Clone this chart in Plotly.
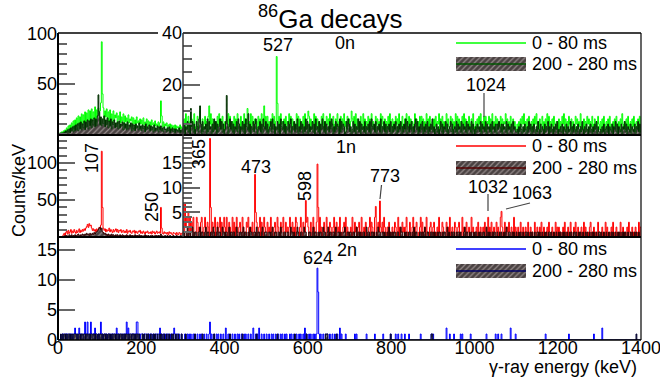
import plotly.graph_objects as go

FONT = "Liberation Sans, Arial, sans-serif"
BIN_KEV = 2

# ---------------- 0n panel ----------------
G0_LOW = [0,0,1,0,2,0,3,1,4,2, 6,2,8,4,9,3,11,6,13,5, 14,7,16,9,18,8,17,10,20,9,
          19,11,22,10,21,13,24,12,23,11, 25,13,22,15,27,12,24,16,26,14, 23,31,92,40,26,14,23,17,25,13,
          22,12,24,15,20,11,23,13,19,16, 21,10,18,14,22,11,17,13,20,9, 18,12,16,9,19,11,15,13,17,8,
          16,10,14,8,17,11,13,9,15,10, 14,8,16,9,12,10,15,7,13,9, 12,7,14,9,11,6,13,8,10,7,
          12,6,11,33,18,7,12,6,10,8, 11,5,9,7,10,4,9,6,8,5, 9,4,8,6,7,3,9,5,7,4]
D0_LOW = [0,0,0,1,0,1,0,2,1,3, 1,4,2,5,1,6,3,7,2,8, 3,9,4,10,3,11,5,12,4,10,
          6,13,4,12,7,14,5,13,8,15, 6,14,9,16,7,15,8,18,39,22, 9,17,8,15,10,18,7,14,9,16,
          6,13,8,15,5,12,9,14,6,11, 7,12,5,13,6,10,8,12,4,11, 6,10,4,12,5,9,7,11,3,10,
          5,9,3,10,6,8,4,11,5,8, 3,9,5,8,2,10,4,7,5,9, 3,8,4,7,2,9,3,6,4,8,
          2,7,4,8,3,6,2,7,4,5, 2,6,3,7,1,5,3,6,2,5, 1,5,3,4,2,6,1,4,2,5]
G0_HIGH = ["4739528461 7359246835 9247358462 8359471636 2849573852",
           "6372948536 2847391548 2639475826 3948527361 8472935648",
           "3826473958 2647382956 3728465938 2746359284 7362849537",
           "4837265938 4726358294 6385729463 8257394628 3759462837",
           "3627485937 2648539274 6382759364 2857362948 5372648295",
           "4726385729 3648257396 4827365294 7362858374 6293748526",
           "3748265937 4826359274 3857264938 2746385927 4638257394",
           "2637485926 3748265837 2946385726 4837265947 3628457362",
           "3526374859 2637485263 7485926374 5836274958 3627485362",
           "2736485927 3648527364 2857364925 3746285736 4825736485",
           "3627485263 7482536274 8536274952 6374825637 4825637482"]
D0_HIGH = ["2514362513 4625136427 3516243517 2634152736 1524736251",
           "3625147362 5143627514 3625174362 5143625731 4362517436",
           "2513462735 1436251743 6251436257 1436253714 2635142736",
           "1524362517 3426153742 6153426375 1426354172 6354126375",
           "2413625143 7261534261 4352617435 2614352714 3625143526",
           "1425361425 3614253716 4253614257 3614253614 2536142537",
           "2413524136 2514362513 4625134261 5342615342 6153426153",
           "1425342615 3426153425 1634251536 4251534261 5342516342",
           "2314253142 5314263514 2531426315 2431524361 4253142536",
           "1324251432 5142361425 3142531426 3142531425 3142536142",
           "2314251342 5143251436 2514325143 6251432514 3251436251"]
G0_PEAKS = {340: 10, 362: 12, 455: 11, 494: 12, 524: 31, 526: 13, 600: 10, 704: 10, 1022: 8}
D0_PEAKS = {318: 11, 340: 12, 404: 16, 456: 9}

# ---------------- 1n panel ----------------
R1_LOW = [0,0,0,0,0,1,3,5,2,6, 8,4,9,5,7,10,5,8,6,10, 7,5,9,6,8,11,6,9,7,10,
          8,11,9,12,14,17,13,18,15,16, 12,9,11,8,10,7,11,8,10,13, 10,16,116,40,12,9,11,7,10,8,
          9,12,7,10,8,6,10,7,9,11, 7,10,6,9,8,10,6,8,9,6, 8,6,10,5,8,7,9,6,5,8,
          7,9,5,8,6,5,8,7,9,5, 7,5,8,6,4,7,6,8,5,6, 5,7,4,8,6,7,4,6,8,5,
          6,7,5,40,12,5,4,7,5,6, 4,6,3,7,5,6,4,3,6,5, 5,3,6,4,3,6,5,3,5,4]
D1_LOW = [0,0,0,0,0,0,1,0,2,1, 2,1,0,3,2,1,3,1,2,2, 3,1,2,3,4,2,1,3,2,4,
          3,2,4,3,5,3,4,2,5,3, 4,5,3,6,4,6,7,8,10,12, 13,10,12,7,6,4,5,3,4,2,
          4,2,3,1,4,2,3,2,1,3, 2,3,1,2,3,1,2,3,2,1, 2,1,3,2,1,2,3,1,2,2,
          1,2,3,1,2,2,1,3,1,2, 2,1,1,2,3,1,2,1,2,1, 1,2,1,2,1,0,2,1,2,1,
          2,1,2,4,2,1,1,0,2,1, 1,2,0,1,2,1,0,1,2,1, 0,1,2,1,0,1,1,2,0,1]
R1_HIGH = ["7052430041 3240014302 0341024003 2004130240 0312403104",
           "2040132004 1302401230 0421003240 1203004132 0240310420",
           "0312041002 3014200312 4003120240 1302043100 2410320134",
           "2013004210 3201402013 0042103201 2400312041 0023140210",
           "1204003120 2310401203 0012403210 4102300213 0421020310",
           "0210320140 2003120241 0130024102 3001240310 2041002301",
           "2301020410 0321003120 4012003201 2300140210 3012004120",
           "0120301200 2130014020 3102003120 1402013002 1300210402",
           "1020031020 1200310201 0031020120 3002101203 0012010302",
           "0201002130 1020031002 1300201020 1302001023 0102010031",
           "1002010302 0010203100 2010030120 1002031002 0102001302"]
D1_HIGH = ["1100120110 0210110011 2011001201 1001102100 1201100211",
           "0110020110 1100210011 0120110010 2110011020 1100120011",
           "1001101200 1100110210 0110011002 1101001210 0110021100",
           "0110012011 0010110021 1001201100 1102001101 0011200110",
           "1100110020 1101001100 2011001101 0010211001 1010010201",
           "0101100110 0211001010 0110010201 1000110101 2001100110",
           "1010010110 0101100201 0010110010 1101000120 1100101001",
           "0110010100 1100201010 0101100100 1010010120 0110010100",
           "1001010010 0110100101 0010011010 0100101001 1010010010",
           "0101001010 0100101001 1010010100 1001010010 0101001001",
           "1010010010 0100101001 0010100101 0100100101 0010100100"]
R1_PEAKS = {304: 7, 312: 5, 364: 20, 366: 6, 472: 12.7, 474: 5, 594: 7.4, 622: 14.8, 624: 6,
            762: 6.2, 772: 7.3, 1032: 4, 1064: 5.2}
D1_PEAKS = {}

# ---------------- 2n panel ----------------
B2_ALL = ["0000011011 1101111011 2110121110 1131131113 1111211011",
          "1311011110 1110111101 2111011011 1131211011 1111331101",
          "1101110110 1110101110 1121101101 0110101102 1011010010",
          "0010010101 0010100100 1010010010 0130100100 1010010010",
          "0200101001 0010010100 1001010010 0100200101 0200100100",
          "1001001010 0100100101 0010100010 1001001001 0100102010",
          "0101001010 1001010010 0101001001 0010010020 1000010000",
          "0000001010 0000000000 1000000000 1000000000 1000000001",
          "0000010010 0010001000 0100000000 0000010000 0000000010",
          "1000000000 0000002000 1000010000 0001010000 0000010000",
          "0000000000 0000100000 0000010010 0010000000 0002000001",
          "0000000000 0000000000 0000000000 0000010000 0000000000",
          "0000000000 0001000000 0000000000 0000000000 0001000000",
          "0002000000 0000000000 0000000000 0000000000 0000000000"]
D2_ALL = ["0001010110 1011010101 1101011011 0110110101 1011011010",
          "1101011010 1101010110 1010110101 0110101101 1010110100",
          "0101001010 0100101001 0010100100 1001001010 0100100010",
          "0001000000 0000100000 0001000000 0000000100 0000000000",
          "0000001000 0000000000 0100000000 0000000010 0000000000",
          "0000000000 0001000000 0000000000 0000100000 0000000010",
          "0000000000 0000000000 0111000000 0000100000 0000000000",
          "0000000000 0000000000 0000000000 0000000000 0000000001",
          "0000000000 0000000000 0000000000 0000000000 0000000011",
          "0000000000 0000000000 0000000000 0000000000 0000000000",
          "0000000000 0000000000 0000000000 0000000000 0000000000",
          "0000000000 0000000000 0000000000 0000000000 0000000000",
          "0000000000 0000000000 0000000000 0000000000 0000000000",
          "0000000000 0000000000 0000000000 0000000000 0000100000"]
B2_PEAKS = {622: 12, 624: 8}
D2_PEAKS = {}

X_TICKS = [0, 200, 400, 600, 800, 1000, 1200, 1400]
LEGEND_LABELS = ["0 - 80 ms", "200 - 280 ms"]
PANEL_NAMES = ["0n", "1n", "2n"]


def series(low, high, peaks):
    vals = list(low) + [int(c) for s in high for c in s.replace(" ", "")]
    for e, v in peaks.items():
        vals[e // BIN_KEV] = v
    return vals


def step_xy(vals):
    xs = [i * BIN_KEV for i in range(len(vals) + 1)]
    ys = list(vals) + [vals[-1]]
    return xs, ys


W, H = 660, 377
def px(x): return x / W
def py(y): return 1 - y / H


fig = go.Figure()

HATCH = dict(shape="/", bgcolor="#4a4242", fgcolor="#958b8b", size=4, solidity=0.3)

panels = [
    (series(G0_LOW, G0_HIGH, G0_PEAKS), series(D0_LOW, D0_HIGH, D0_PEAKS), "#00ff00", "#003300", [("x", "y"), ("x2", "y2")]),
    (series(R1_LOW, R1_HIGH, R1_PEAKS), series(D1_LOW, D1_HIGH, D1_PEAKS), "#ff0000", "#330000", [("x3", "y3"), ("x4", "y4")]),
    (series([], B2_ALL, B2_PEAKS), series([], D2_ALL, D2_PEAKS), "#0000ff", "#000033", [("x5", "y5")]),
]
for bright, dark, cb, cd, axes in panels:
    for xa, ya in axes:
        xs, ys = step_xy(bright)
        fig.add_trace(go.Scatter(x=xs, y=ys, mode="lines", line=dict(color=cb, width=1, shape="hv"),
                                 xaxis=xa, yaxis=ya, showlegend=False, hoverinfo="skip"))
        xs, ys = step_xy(dark)
        fig.add_trace(go.Scatter(x=xs, y=ys, mode="lines", line=dict(color=cd, width=1, shape="hv"),
                                 fill="tozeroy", fillcolor="#4a4242", fillpattern=HATCH,
                                 xaxis=xa, yaxis=ya, showlegend=False, hoverinfo="skip"))

# legend glyphs (overlay pixel axis)
leg = [(43, 64, "#00ff00", "#005500"), (146, 168, "#ff0000", "#550000"), (249, 271, "#0000ff", "#000066")]
for yl, yb, cb, cd in leg:
    fig.add_trace(go.Scatter(x=[456, 526, 526, 456, 456], y=[yb - 7, yb - 7, yb + 7, yb + 7, yb - 7],
                             mode="lines", line=dict(width=0), fill="toself", fillcolor="#4a4242",
                             fillpattern=HATCH, xaxis="x6", yaxis="y6", showlegend=False, hoverinfo="skip"))
    fig.add_trace(go.Scatter(x=[456, 526], y=[yb, yb], mode="lines", line=dict(color=cd, width=1.5),
                             xaxis="x6", yaxis="y6", showlegend=False, hoverinfo="skip"))
    fig.add_trace(go.Scatter(x=[456, 526], y=[yl, yl], mode="lines", line=dict(color=cb, width=1.5),
                             xaxis="x6", yaxis="y6", showlegend=False, hoverinfo="skip"))

tickfont = dict(size=18, family=FONT, color="black")
def yax(dom, rng, vals, minor_dt, anchor):
    d = dict(domain=dom, range=rng, anchor=anchor, tickvals=vals, ticks="inside", ticklen=17,
             tickwidth=2, tickcolor="#666", showgrid=False, zeroline=False, showline=False,
             tickfont=tickfont, fixedrange=True, automargin=False)
    if minor_dt:
        d["minor"] = dict(tickmode="linear", tick0=0, dtick=minor_dt, ticks="inside", ticklen=9,
                          tickwidth=2, tickcolor="#666", showgrid=False)
    return d

def xax(dom, rng, anchor, labels=False):
    d = dict(domain=dom, range=rng, anchor=anchor, showgrid=False, zeroline=False, showline=False,
             fixedrange=True, ticks="", automargin=False)
    if labels:
        d.update(tickvals=X_TICKS, tickfont=tickfont, showticklabels=True,
                 ticklabeloverflow="allow", ticklabelstandoff=-5)
    else:
        d.update(showticklabels=False)
    return d

L, M, R = px(58), px(183), px(641)
p0 = [py(135), py(33)]
p1 = [py(237), py(135)]
p2 = [py(340), py(237)]

fig.update_layout(
    template="none",
    width=W, height=H, margin=dict(l=0, r=0, t=0, b=0, pad=0), autosize=False,
    paper_bgcolor="white", plot_bgcolor="rgba(0,0,0,0)", showlegend=False,
    font=dict(family=FONT, size=18, color="black"),
    xaxis=xax([L, M], [0, 300], "y"),
    yaxis=yax(p0, [-1.1, 100.8], [50, 100], 10, "x"),
    xaxis2=xax([M, R], [300, 1400], "y2"),
    yaxis2=yax(p0, [0.8, 40.05], [20, 40], 5, "x2"),
    xaxis3=xax([L, M], [0, 300], "y3"),
    yaxis3=yax(p1, [0, 138], [50, 100], 10, "x3"),
    xaxis4=xax([M, R], [300, 1400], "y4"),
    yaxis4=yax(p1, [0, 20.7], [5, 10, 15], 1, "x4"),
    xaxis5=xax([L, R], [0, 1400], "y5", labels=True),
    yaxis5=yax(p2, [0, 17.2], [0, 5, 10, 15], None, "x5"),
    xaxis6=dict(domain=[0, 1], range=[0, W], visible=False, anchor="y6", fixedrange=True, automargin=False),
    yaxis6=dict(domain=[0, 1], range=[H, 0], visible=False, anchor="x6", fixedrange=True, automargin=False),
)

def hline(y, x0, x1, w=2, c="black"):
    return dict(type="line", xref="paper", yref="paper", x0=px(x0), x1=px(x1), y0=py(y), y1=py(y),
                line=dict(color=c, width=w))
def vline(x, y0, y1, w=2, c="black"):
    return dict(type="line", xref="paper", yref="paper", x0=px(x), x1=px(x), y0=py(y0), y1=py(y1),
                line=dict(color=c, width=w))

shapes = [vline(58, 33, 340, 2), hline(33, 58, 158, 1.5), hline(33, 183, 641, 1.5),
          vline(641, 33, 340, 1.2), hline(135, 58, 641, 2), hline(237, 58, 641, 2),
          hline(340, 58, 641, 1.5), vline(183, 33, 237, 1.5, "#333")]
# peak marker leader lines
for (x0, y0, x1, y1) in [(484, 93, 484, 117), (381.5, 185, 380, 199), (488, 194, 488, 211), (506, 209, 530, 203)]:
    shapes.append(dict(type="line", xref="paper", yref="paper", x0=px(x0), x1=px(x1), y0=py(y0), y1=py(y1),
                       line=dict(color="#444", width=1.2)))
fig.update_layout(shapes=shapes)

ann = []
def text(t, x, y, size=18, angle=0, xanchor="center"):
    ann.append(dict(text=t, x=px(x), y=py(y), xref="paper", yref="paper", showarrow=False,
                    font=dict(size=size, family=FONT, color="black"), textangle=angle,
                    xanchor=xanchor, yanchor="middle"))

text("<sup>86</sup>Ga decays", 331, 17, size=26)
text("γ-ray energy (keV)", 639, 367, xanchor="right")
text("Counts/keV", 19, 191, angle=-90)
for name, (x, y) in zip(PANEL_NAMES, [(345, 43), (346, 147), (347, 250)]):
    text(name, x, y)
for yl, yb, _, _ in leg:
    text(LEGEND_LABELS[0], 530, yl, xanchor="left")
    text(LEGEND_LABELS[1], 530, yb, xanchor="left")
for t, x, y, a in [("527", 278, 45, 0), ("1024", 486, 85, 0), ("107", 92, 158, -90), ("250", 152, 207, -90),
                   ("365", 199, 154, -90), ("473", 256, 167, 0), ("598", 305, 186, -90), ("773", 385, 176, 0),
                   ("1032", 488, 187, 0), ("1063", 532, 193, 0), ("624", 318, 258, 0)]:
    text(t, x, y, angle=a)
fig.update_layout(annotations=ann)

fig.write_html("out.html", config={"displayModeBar": False, "staticPlot": True},
               post_script="document.body.style.margin='0';document.body.style.overflow='hidden';")
